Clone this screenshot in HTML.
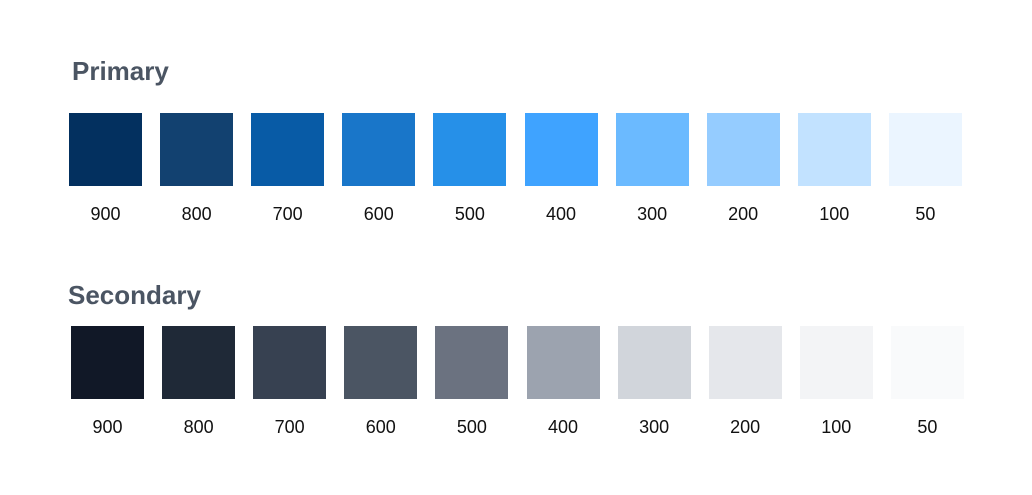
<!DOCTYPE html>
<html><head><meta charset="utf-8"><style>
body{margin:0;width:1032px;height:495px;background:#fff;position:relative;overflow:hidden;font-family:"Liberation Sans",sans-serif}
.h{position:absolute;font-weight:bold;font-size:26px;color:#4b5563;margin:0}
.sw{position:absolute;width:73px;height:73px}
.lb{position:absolute;width:100px;text-align:center;font-size:18px;color:#111}
</style></head><body>
<h2 class="h" style="left:72px;top:56px">Primary</h2>
<h2 class="h" style="left:68px;top:280px">Secondary</h2>
<div id="rows"></div>
<script>
const labels=["900","800","700","600","500","400","300","200","100","50"];
const primary=["#03305f","#124170","#085ba6","#1976c9","#2690e8","#3fa3ff","#6bbaff","#95ccff","#c2e2ff","#ebf5ff"];
const secondary=["#111827","#1f2937","#374151","#4b5563","#6b7280","#9ca3af","#d1d5db","#e5e7eb","#f3f4f6","#f9fafb"];
const root=document.getElementById('rows');
function row(cols,x0,y0,ly,name){
 cols.forEach((c,i)=>{
  const x=x0+i*91.1;
  const s=document.createElement('div');s.className='sw';
  
  
  s.style.left=x+'px';s.style.top=y0+'px';s.style.background=c;root.appendChild(s);
  const l=document.createElement('div');l.className='lb';
  
  
  l.style.left=(x+36.5-50)+'px';l.style.top=ly+'px';l.textContent=labels[i];root.appendChild(l);
 });
}
row(primary,69,113,204,'primary');
row(secondary,71,326,417,'secondary');
</script>
</body></html>
